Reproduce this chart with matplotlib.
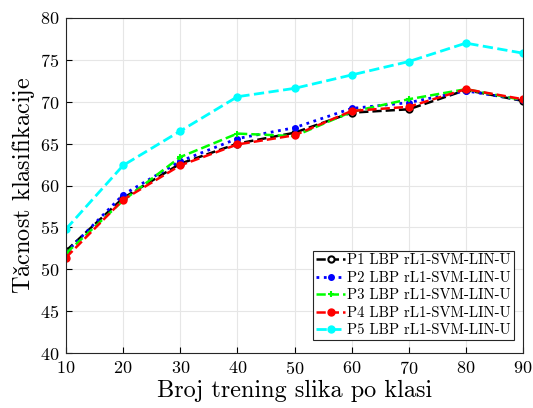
import numpy as np
import matplotlib
matplotlib.use("Agg")
import matplotlib.pyplot as plt

plt.rcParams['font.family'] = ['cmr10', 'DejaVu Serif']
plt.rcParams['mathtext.fontset'] = 'cm'
plt.rcParams['axes.formatter.use_mathtext'] = True

# Data
x = [10, 20, 30, 40, 50, 60, 70, 80, 90]
p1 = [52.2, 58.5, 62.6, 65.0, 66.3, 68.7, 69.1, 71.4, 70.1]
p2 = [52.0, 58.9, 62.9, 65.6, 66.9, 69.2, 69.9, 71.3, 70.2]
p3 = [51.9, 58.2, 63.4, 66.2, 65.9, 68.8, 70.3, 71.5, 70.2]
p4 = [51.4, 58.3, 62.4, 64.9, 66.0, 68.9, 69.4, 71.5, 70.3]
p5 = [54.8, 62.4, 66.5, 70.6, 71.6, 73.2, 74.8, 77.0, 75.8]
labels = ["P1 LBP rL1-SVM-LIN-U", "P2 LBP rL1-SVM-LIN-U", "P3 LBP rL1-SVM-LIN-U",
          "P4 LBP rL1-SVM-LIN-U", "P5 LBP rL1-SVM-LIN-U"]

fig = plt.figure(figsize=(5.33, 4.08), dpi=100)
ax = fig.add_axes([66/533, 1 - 353/408, 457/533, 335/408])

ax.plot(x, p1, color='black', ls='--', lw=1.8, marker='o', ms=4.5, mfc='white', mec='black', mew=1.5, label=labels[0])
ax.plot(x, p2, color='blue', ls=':', lw=2.0, marker='o', ms=4, label=labels[1])
ax.plot(x, p3, color='#00ff00', ls='--', lw=1.8, marker='+', ms=5, mew=1.5, label=labels[2])
ax.plot(x, p4, color='red', ls='--', lw=1.8, marker='o', ms=5, label=labels[3])
ax.plot(x, p5, color='cyan', ls='--', lw=2.0, marker='o', ms=5, label=labels[4])

ax.set_xlim(10, 90)
ax.set_ylim(40, 80)
ax.set_xticks(x)
ax.set_yticks(np.arange(40, 81, 5))
ax.tick_params(direction='in', labelsize=13, length=4, pad=5)
ax.grid(True, color='#e6e6e6', lw=0.8)
ax.set_axisbelow(True)
for s in ax.spines.values():
    s.set_linewidth(0.8)
    s.set_color('#262626')

ax.set_xlabel("Broj trening slika po klasi", fontsize=17.5, labelpad=2)
ax.set_ylabel(r"Ta$\check{\mathrm{c}}$nost klasifikacije", fontsize=17.5, labelpad=2)

leg = ax.legend(loc='lower right', bbox_to_anchor=(1 - 9/457, 13/335), borderaxespad=0,
                fontsize=10.6, fancybox=False, edgecolor='#262626',
                handlelength=2.0, handletextpad=0.15, borderpad=0.2, labelspacing=0.25,
                framealpha=1)
leg.get_frame().set_linewidth(0.8)

plt.savefig("out.png", dpi=100)
